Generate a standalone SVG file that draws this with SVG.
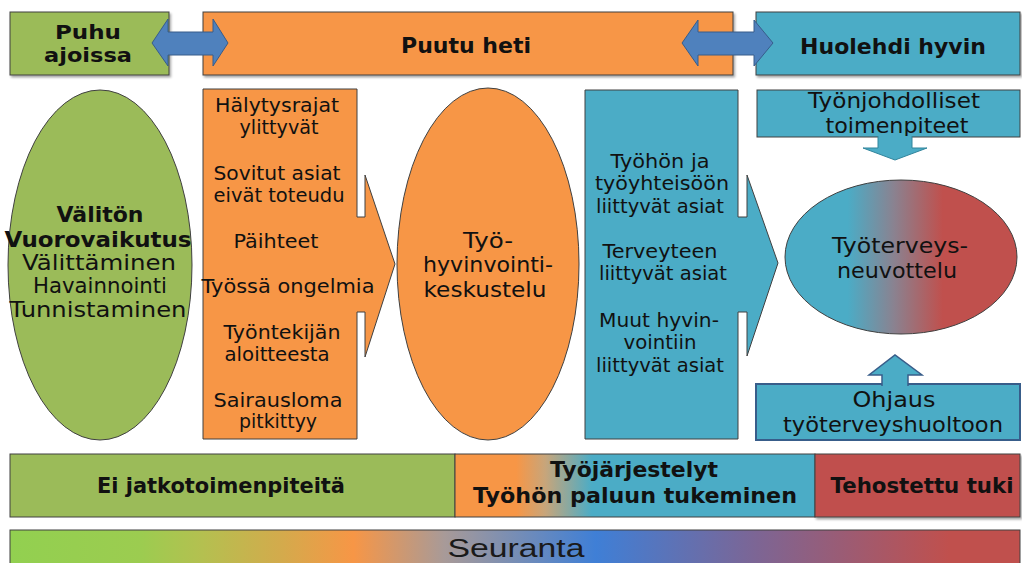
<svg xmlns="http://www.w3.org/2000/svg" width="1022" height="563" viewBox="0 0 1022 563">
<style>
.t{font-family:"DejaVu Sans","Liberation Sans",sans-serif;fill:#111;text-anchor:middle}
.b{font-weight:bold}
.box{stroke:#404040;stroke-width:1}
.g{fill:#9bbb59}.o{fill:#f79646}.bl{fill:#4bacc6}.r{fill:#c0504d}
.arr{fill:#4f81bd;stroke:#385d8a;stroke-width:1}
.sarr{fill:#4bacc6;stroke:#31859c;stroke-width:1}
</style>
<defs>
<filter id="sh" x="-5%" y="-5%" width="110%" height="115%">
<feDropShadow dx="1.5" dy="2" stdDeviation="1" flood-color="#000" flood-opacity="0.35"/>
</filter>
<linearGradient id="gEll" x1="0" y1="0" x2="1" y2="0">
<stop offset="0" stop-color="#4bacc6"/>
<stop offset="0.27" stop-color="#4bacc6"/>
<stop offset="0.47" stop-color="#8a8290"/>
<stop offset="0.68" stop-color="#c0504d"/>
<stop offset="1" stop-color="#c0504d"/>
</linearGradient>
<linearGradient id="gMid" x1="0" y1="0" x2="1" y2="0">
<stop offset="0" stop-color="#f79646"/>
<stop offset="0.17" stop-color="#f79646"/>
<stop offset="0.25" stop-color="#c8a57a"/>
<stop offset="0.38" stop-color="#4bacc6"/>
<stop offset="1" stop-color="#4bacc6"/>
</linearGradient>
<linearGradient id="gSeu" x1="0" y1="0" x2="1" y2="0">
<stop offset="0" stop-color="#92d050"/>
<stop offset="0.13" stop-color="#9ccc50"/>
<stop offset="0.19" stop-color="#b4c050"/>
<stop offset="0.27" stop-color="#d4aa4c"/>
<stop offset="0.34" stop-color="#f79646"/>
<stop offset="0.43" stop-color="#a89a98"/>
<stop offset="0.58" stop-color="#3f7fd6"/>
<stop offset="0.74" stop-color="#7d6594"/>
<stop offset="0.93" stop-color="#c0504d"/>
<stop offset="1" stop-color="#c0504d"/>
</linearGradient>
</defs>
<rect width="1022" height="563" fill="#fff"/>

<g id="puhu-ajoissa">
<rect x="10" y="12" width="159" height="63" class="box g" filter="url(#sh)"/>
<text class="t b" font-size="20" x="88" y="39" textLength="66" lengthAdjust="spacingAndGlyphs">Puhu</text>
<text class="t b" font-size="20" x="88" y="62" textLength="88" lengthAdjust="spacingAndGlyphs">ajoissa</text>
</g>
<g id="puutu-heti">
<rect x="203" y="12" width="530" height="63" class="box o" filter="url(#sh)"/>
<text class="t b" font-size="22" x="466" y="53">Puutu heti</text>
</g>
<g id="huolehdi-hyvin">
<rect x="756" y="12" width="264" height="63" class="box bl" filter="url(#sh)"/>
<text class="t b" font-size="22" x="893" y="54">Huolehdi hyvin</text>
</g>

<g id="valiton">
<ellipse cx="100" cy="265" rx="92" ry="175" class="box g"/>
<text class="t b" font-size="21" x="100" y="222" textLength="87" lengthAdjust="spacingAndGlyphs">Välitön</text>
<text class="t b" font-size="21" x="98" y="247" textLength="187" lengthAdjust="spacingAndGlyphs">Vuorovaikutus</text>
<text class="t" font-size="21" x="99" y="270" textLength="154" lengthAdjust="spacingAndGlyphs">Välittäminen</text>
<text class="t" font-size="21" x="100" y="293" textLength="134" lengthAdjust="spacingAndGlyphs">Havainnointi</text>
<text class="t" font-size="21" x="98" y="317" textLength="177" lengthAdjust="spacingAndGlyphs">Tunnistaminen</text>
</g>

<g id="syyt">
<path d="M203,89 H357 V217 H365 V175 L395,264 L365,357 V312 H357 V439 H203 Z" class="box o"/>
<text class="t" font-size="19" x="277" y="112" textLength="124" lengthAdjust="spacingAndGlyphs">Hälytysrajat</text>
<text class="t" font-size="19" x="279" y="134" textLength="79" lengthAdjust="spacingAndGlyphs">ylittyvät</text>
<text class="t" font-size="19" x="277" y="180" textLength="127" lengthAdjust="spacingAndGlyphs">Sovitut asiat</text>
<text class="t" font-size="19" x="279" y="202" textLength="131" lengthAdjust="spacingAndGlyphs">eivät toteudu</text>
<text class="t" font-size="19" x="276" y="248" textLength="85" lengthAdjust="spacingAndGlyphs">Päihteet</text>
<text class="t" font-size="19" x="288" y="293" textLength="173" lengthAdjust="spacingAndGlyphs">Työssä ongelmia</text>
<text class="t" font-size="19" x="282" y="339" textLength="117" lengthAdjust="spacingAndGlyphs">Työntekijän</text>
<text class="t" font-size="19" x="277" y="361" textLength="105" lengthAdjust="spacingAndGlyphs">aloitteesta</text>
<text class="t" font-size="19" x="278" y="407" textLength="129" lengthAdjust="spacingAndGlyphs">Sairausloma</text>
<text class="t" font-size="19" x="278" y="428" textLength="78" lengthAdjust="spacingAndGlyphs">pitkittyy</text>
</g>

<g id="tyohyvinvointikeskustelu">
<ellipse cx="488" cy="264" rx="91" ry="176" class="box o"/>
<text class="t" font-size="22" x="488" y="248" textLength="50" lengthAdjust="spacingAndGlyphs">Työ-</text>
<text class="t" font-size="22" x="488" y="272" textLength="130" lengthAdjust="spacingAndGlyphs">hyvinvointi-</text>
<text class="t" font-size="22" x="485" y="297" textLength="123" lengthAdjust="spacingAndGlyphs">keskustelu</text>
</g>

<g id="asiat">
<path d="M585,90 H738 V217 H747 V175 L778,263 L747,356 V312 H738 V439 H585 Z" class="box bl"/>
<text class="t" font-size="19" x="660" y="168" textLength="99" lengthAdjust="spacingAndGlyphs">Työhön ja</text>
<text class="t" font-size="19" x="662" y="190" textLength="134" lengthAdjust="spacingAndGlyphs">työyhteisöön</text>
<text class="t" font-size="19" x="660" y="213" textLength="128" lengthAdjust="spacingAndGlyphs">liittyvät asiat</text>
<text class="t" font-size="19" x="660" y="258" textLength="115" lengthAdjust="spacingAndGlyphs">Terveyteen</text>
<text class="t" font-size="19" x="663" y="280" textLength="128" lengthAdjust="spacingAndGlyphs">liittyvät asiat</text>
<text class="t" font-size="19" x="659" y="327" textLength="120" lengthAdjust="spacingAndGlyphs">Muut hyvin-</text>
<text class="t" font-size="19" x="660" y="349" textLength="73" lengthAdjust="spacingAndGlyphs">vointiin</text>
<text class="t" font-size="19" x="660" y="372" textLength="128" lengthAdjust="spacingAndGlyphs">liittyvät asiat</text>
</g>

<g id="tyonjohdolliset">
<rect x="757" y="90" width="263" height="47" class="box bl"/>
<text class="t" font-size="22" x="894" y="108" textLength="172" lengthAdjust="spacingAndGlyphs">Työnjohdolliset</text>
<text class="t" font-size="22" x="897" y="133" textLength="143" lengthAdjust="spacingAndGlyphs">toimenpiteet</text>
</g>

<g id="tyoterveysneuvottelu">
<ellipse cx="901" cy="257" rx="116" ry="77" fill="url(#gEll)" stroke="#404040" stroke-width="1"/>
<text class="t" font-size="22" x="900" y="253" textLength="136" lengthAdjust="spacingAndGlyphs">Työterveys-</text>
<text class="t" font-size="22" x="897" y="278" textLength="120" lengthAdjust="spacingAndGlyphs">neuvottelu</text>
</g>

<g id="ohjaus">
<rect x="756" y="384" width="264" height="56" class="bl" stroke="#385d8a" stroke-width="2"/>
<text class="t" font-size="22" x="894" y="407" textLength="83" lengthAdjust="spacingAndGlyphs">Ohjaus</text>
<text class="t" font-size="22" x="893" y="432" textLength="220" lengthAdjust="spacingAndGlyphs">työterveyshuoltoon</text>
</g>

<g id="connectors">
<path d="M152,43 L168,19 V32 H213 V19 L228,43 L213,66 V55 H168 V66 Z" class="arr"/>
<path d="M682,43 L698,20 V32 H754 V20 L773,43 L754,66 V55 H698 V66 Z" class="arr"/>
<path d="M878,136 V148 H863 L895,160 L927,148 H912 V136" class="sarr"/>
<path d="M882,386 V375 H869 L895,355 L922,375 H908 V386" fill="#4bacc6" stroke="#385d8a" stroke-width="1.5"/>
</g>

<g id="ei-jatkotoimenpiteita">
<rect x="10" y="454" width="445" height="63" class="box g"/>
<text class="t b" font-size="21" x="221" y="493" textLength="248" lengthAdjust="spacingAndGlyphs">Ei jatkotoimenpiteitä</text>
</g>
<g id="tyojarjestelyt">
<rect x="455" y="454" width="360" height="63" fill="url(#gMid)" class="box"/>
<text class="t b" font-size="21" x="634" y="477" textLength="168" lengthAdjust="spacingAndGlyphs">Työjärjestelyt</text>
<text class="t b" font-size="21" x="635" y="503" textLength="324" lengthAdjust="spacingAndGlyphs">Työhön paluun tukeminen</text>
</g>
<g id="tehostettu-tuki">
<rect x="815" y="454" width="205" height="63" class="box r" filter="url(#sh)"/>
<text class="t b" font-size="21" x="922" y="493" textLength="183" lengthAdjust="spacingAndGlyphs">Tehostettu tuki</text>
</g>
<g id="seuranta">
<rect x="10" y="530" width="1010" height="40" fill="url(#gSeu)" stroke="#404040" stroke-width="1"/>
<text font-family="Liberation Sans, Arial, sans-serif" font-size="26" fill="#1a1a1a" text-anchor="middle" x="516" y="557" textLength="137" lengthAdjust="spacingAndGlyphs">Seuranta</text>
</g>
</svg>
